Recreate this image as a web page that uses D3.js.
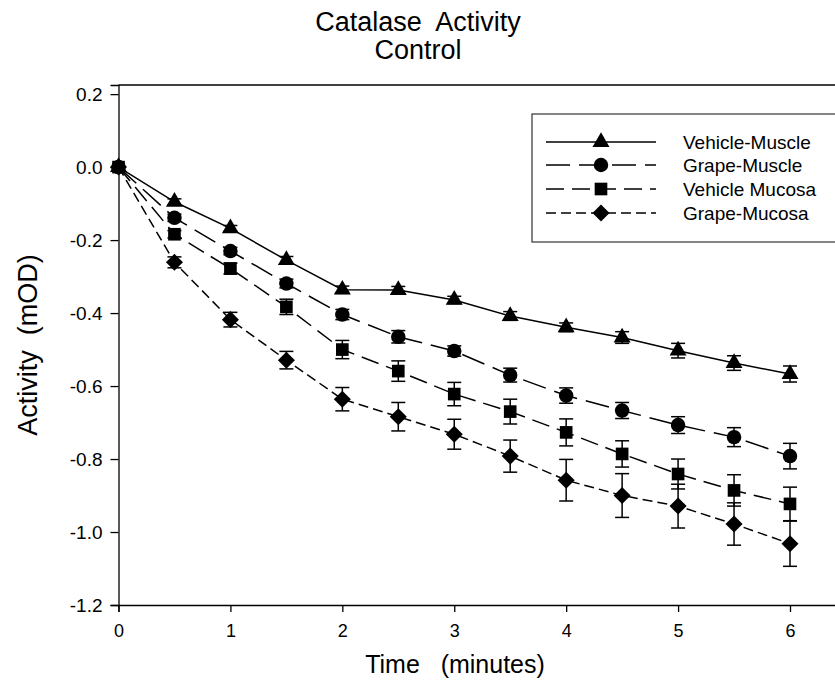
<!DOCTYPE html>
<html>
<head>
<meta charset="utf-8">
<script src="https://cdn.jsdelivr.net/npm/d3@7"></script>
<style>
  body { margin: 0; background: #fff; }
  text { font-family: Arial, "Liberation Sans", sans-serif; }
</style>
</head>
<body>
<div id="chart"></div>
<script>
// time points (minutes)
const times = [0, 0.5, 1, 1.5, 2, 2.5, 3, 3.5, 4, 4.5, 5, 5.5, 6];

const series_names = ["Vehicle-Muscle", "Grape-Muscle", "Vehicle Mucosa", "Grape-Mucosa"];
const vehicle_muscle = [0, -0.095, -0.168, -0.255, -0.336, -0.337, -0.364, -0.408, -0.439, -0.467, -0.503, -0.537, -0.567];
const vehicle_muscle_err = [0, 0.008, 0.008, 0.01, 0.01, 0.01, 0.01, 0.012, 0.012, 0.016, 0.02, 0.02, 0.022];
const grape_muscle = [0, -0.139, -0.230, -0.319, -0.404, -0.465, -0.504, -0.570, -0.626, -0.667, -0.707, -0.740, -0.792];
const grape_muscle_err = [0, 0.01, 0.01, 0.012, 0.014, 0.017, 0.014, 0.019, 0.021, 0.022, 0.023, 0.026, 0.035];
const vehicle_mucosa = [0, -0.184, -0.278, -0.383, -0.500, -0.559, -0.622, -0.670, -0.727, -0.786, -0.841, -0.886, -0.923];
const vehicle_mucosa_err = [0, 0.01, 0.015, 0.021, 0.025, 0.028, 0.032, 0.034, 0.037, 0.036, 0.041, 0.043, 0.046];
const grape_mucosa = [0, -0.261, -0.418, -0.529, -0.636, -0.684, -0.732, -0.792, -0.858, -0.900, -0.929, -0.978, -1.032];
const grape_mucosa_err = [0, 0.015, 0.02, 0.024, 0.032, 0.039, 0.041, 0.044, 0.057, 0.06, 0.06, 0.058, 0.062];

const x_ticks = [0, 1, 2, 3, 4, 5, 6];
const y_ticks = [-1.2, -1.0, -0.8, -0.6, -0.4, -0.2, 0.0, 0.2];

const W = 835, H = 685;
const svg = d3.select("#chart").append("svg")
  .attr("width", W).attr("height", H);

// scales: x(0)=118.5, x(6)=790 ; plot frame continues past the right edge
const x = d3.scaleLinear().domain([0, 6]).range([118.5, 790]);
const y = d3.scaleLinear().domain([-1.2, 0.225]).range([605, 85]);
const x_end = x.invert(W + 5);

// title
svg.append("text").attr("x", 418).attr("y", 31).attr("text-anchor", "middle")
  .attr("font-size", 27).attr("xml:space", "preserve").text("Catalase  Activity");
svg.append("text").attr("x", 418).attr("y", 59).attr("text-anchor", "middle")
  .attr("font-size", 27).text("Control");

// top border
svg.append("line")
  .attr("x1", x(0)).attr("x2", W + 5)
  .attr("y1", y(0.225)).attr("y2", y(0.225))
  .attr("stroke", "#000").attr("stroke-width", 1.3);

// axes (hyphen minus like the original)
const fmt1 = d => d3.format(".1f")(d).replace("\u2212", "-");

let xAxisScale = d3.scaleLinear().domain([0, x_end]).range([x(0), W + 5]);
let xAxis = svg.append("g")
  .attr("transform", "translate(0," + y(-1.2) + ")")
  .call(d3.axisBottom(xAxisScale).tickValues(x_ticks).tickSizeOuter(0).tickSize(7).tickPadding(12)
    .tickFormat(d3.format("d")));
xAxis.attr("font-size", 18).attr("font-family", null);
xAxis.select(".domain").attr("stroke-width", 1.3);
xAxis.selectAll(".tick line").attr("stroke-width", 1.3);
xAxis.selectAll(".tick text").attr("fill", "#000");

let yAxis = svg.append("g")
  .attr("transform", "translate(" + x(0) + ",0)")
  .call(d3.axisLeft(y).tickValues(y_ticks).tickSizeOuter(0).tickSize(8).tickPadding(8)
    .tickFormat(fmt1));
yAxis.attr("font-size", 19).attr("font-family", null);
yAxis.select(".domain").attr("stroke-width", 1.3);
yAxis.selectAll(".tick line").attr("stroke-width", 1.3);
yAxis.selectAll(".tick text").attr("fill", "#000");

// axis titles
svg.append("text").attr("x", 455).attr("y", 673).attr("text-anchor", "middle")
  .attr("font-size", 25).attr("xml:space", "preserve").text("Time   (minutes)");
svg.append("text").attr("transform", "translate(37,345) rotate(-90)").attr("text-anchor", "middle")
  .attr("font-size", 27).attr("xml:space", "preserve").text("Activity  (mOD)");

// diamond = square turned 45 degrees
const diamondSym = {
  draw(ctx, size) {
    const r = Math.sqrt(size / 2);
    ctx.moveTo(0, -r); ctx.lineTo(r, 0); ctx.lineTo(0, r); ctx.lineTo(-r, 0); ctx.closePath();
  }
};

// series definitions
const series = [
  {name: series_names[0], values: vehicle_muscle, err: vehicle_muscle_err, dash: null, symbol: d3.symbolTriangle, size: 125},
  {name: series_names[1], values: grape_muscle, err: grape_muscle_err, dash: "24,9", symbol: d3.symbolCircle, size: 165},
  {name: series_names[2], values: vehicle_mucosa, err: vehicle_mucosa_err, dash: "18,8", symbol: d3.symbolSquare, size: 160},
  {name: series_names[3], values: grape_mucosa, err: grape_mucosa_err, dash: "10,5", symbol: diamondSym, size: 145},
];

const line = d3.line().x(d => x(d[0])).y(d => y(d[1]));

for (let s of series) {
  let pts = times.map((t, i) => [t, s.values[i], s.err[i]]);
  let g = svg.append("g");
  g.append("path").datum(pts).attr("d", line)
    .attr("fill", "none").attr("stroke", "#000").attr("stroke-width", 1.5)
    .attr("stroke-dasharray", s.dash);
  // error bars
  let eb = g.selectAll(".eb").data(pts.filter(d => d[2] > 0)).enter().append("g");
  eb.append("line")
    .attr("x1", d => x(d[0])).attr("x2", d => x(d[0]))
    .attr("y1", d => y(d[1] + d[2])).attr("y2", d => y(d[1] - d[2]))
    .attr("stroke", "#000").attr("stroke-width", 1.5);
  for (let sign of [1, -1]) {
    eb.append("line")
      .attr("x1", d => x(d[0]) - 7).attr("x2", d => x(d[0]) + 7)
      .attr("y1", d => y(d[1] + sign * d[2])).attr("y2", d => y(d[1] + sign * d[2]))
      .attr("stroke", "#000").attr("stroke-width", 1.5);
  }
  // markers
  g.selectAll(".mk").data(pts).enter().append("path")
    .attr("d", d3.symbol().type(s.symbol).size(s.size))
    .attr("transform", d => "translate(" + x(d[0]) + "," + y(d[1]) + ")")
    .attr("fill", "#000");
}

// legend
const legend = svg.append("g");
legend.append("rect").attr("x", 532).attr("y", 114).attr("width", 320).attr("height", 128)
  .attr("fill", "#fff").attr("stroke", "#333").attr("stroke-width", 1.2);
const legend_rows = [142, 165, 189, 213];
series.forEach((s, i) => {
  let ly = legend_rows[i];
  legend.append("line").attr("x1", 546).attr("x2", 656).attr("y1", ly).attr("y2", ly)
    .attr("stroke", "#000").attr("stroke-width", 1.5).attr("stroke-dasharray", s.dash);
  legend.append("path").attr("d", d3.symbol().type(s.symbol).size(s.size))
    .attr("transform", "translate(601," + ly + ")").attr("fill", "#000");
  legend.append("text").attr("x", 683).attr("y", ly + 7).attr("font-size", 19).text(s.name);
});
</script>
</body>
</html>
